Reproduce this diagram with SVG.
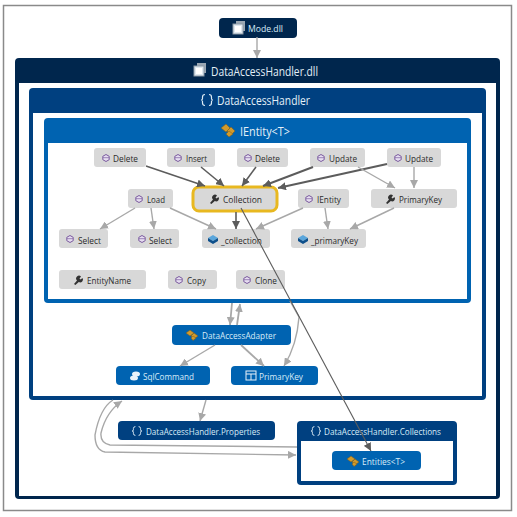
<svg xmlns="http://www.w3.org/2000/svg" width="517" height="517" viewBox="0 0 517 517">
<style>
text{font-family:"Open Sans","Noto Sans","DejaVu Sans",sans-serif;dominant-baseline:central;text-anchor:start}
.t{font-size:9.5px;fill:#2b2b2b}
.w{font-size:9.5px;fill:#d8ecf8}
.h{font-size:12px;fill:#e4f0f8}
.g{fill:#d8d8d8}
.l{fill:none;stroke:#a8a8a8;stroke-width:1.4}
.d{fill:none;stroke:#5c5c5c;stroke-width:1.6}
.wr{fill:#333}
.gold{fill:#d19a2c;stroke:#7b5a1a;stroke-width:.5}
.f{fill:#e8f2fa}
</style>
<defs>
<marker id="a" markerUnits="userSpaceOnUse" markerWidth="9" markerHeight="8" refX="8" refY="4" orient="auto"><path d="M0 0L8 4L0 8Z" fill="#a8a8a8"/></marker>
<marker id="b" markerUnits="userSpaceOnUse" markerWidth="9" markerHeight="8" refX="8" refY="4" orient="auto"><path d="M0 0L8 4L0 8Z" fill="#5c5c5c"/></marker>
<g id="mth"><path d="M0 -3.500L3.200 -1.700V1.700L0 3.500L-3.200 1.700V-1.700Z" fill="#e6def0" stroke="#7a5a9e" stroke-width="1"/><path d="M-3 -.3H3" stroke="#7a5a9e" stroke-width=".7"/></g>
<path id="wrench" d="M-4 4L-1 0.5A2.800 2.800 0 0 1 3 -3.500L1.500 -1.600L2.600 -.6L4.500 -2A2.800 2.800 0 0 1 .8 2L-2.600 5Z"/>
<g id="cyl"><path d="M-5 -1L0 -4L5 -1L0 2Z" fill="#5aa6dc"/><path d="M-5 -1V2L0 5L5 2V-1L0 2Z" fill="#0d4f8b"/></g>
<g id="cls"><path d="M-7 -2L-2 -6L2 -2L-2 2Z" class="gold"/><path d="M-1 1L3 -3L7 1L3 5Z" class="gold"/><path d="M-2 4L1 7L5 4L1 1Z" class="gold"/></g>
<g id="cls2"><path d="M-6 -2L-2 -5L2 -2L-2 1Z" class="gold"/><path d="M-1 1L2 -2L6 1L2 4Z" class="gold"/><path d="M-1 3L1 5.500L4 3L1 1Z" class="gold"/></g>
<g id="asm"><rect x="-3" y="-7" width="9" height="10" fill="#9aa7b3"/><rect x="-6" y="-4" width="10" height="10" fill="#dfe8ef" stroke="#8a98a5"/><rect x="-4" y="-2" width="6" height="6" fill="#fff"/></g>
<path id="ns" fill="none" stroke="#dcebf5" stroke-width="1.200" d="M-2 -5.500Q-4.500 -5.500 -4.500 -3V-1.500Q-4.500 0 -6 0Q-4.500 0 -4.500 1.500V3Q-4.500 5.500 -2 5.500M2 -5.500Q4.500 -5.500 4.500 -3V-1.500Q4.500 0 6 0Q4.500 0 4.500 1.500V3Q4.500 5.500 2 5.500"/>
</defs>

<rect id="frame" x="3.500" y="5.500" width="508" height="505" fill="#fff" stroke="#8a8a8a" stroke-width="1.500"/>

<g id="DataAccessHandler-dll"><rect x="15" y="58" width="485" height="441" rx="4" fill="#00264d"/><rect x="19" y="83" width="477" height="413" fill="#fff"/><use href="#asm" x="200" y="70"/><text class="h" x="211" y="71" textLength="107" lengthAdjust="spacingAndGlyphs">DataAccessHandler.dll</text></g>
<g id="DataAccessHandler"><rect x="29" y="88" width="457" height="312" rx="4" fill="#004080"/><rect x="33" y="113" width="449" height="283" fill="#fff"/><use href="#ns" x="207" y="100"/><text class="h" x="217" y="100" textLength="93" lengthAdjust="spacingAndGlyphs">DataAccessHandler</text></g>
<g id="IEntity-T"><rect x="44" y="118" width="427" height="185" rx="4" fill="#0063b1"/><rect x="48" y="143" width="419" height="156" fill="#fff"/><use href="#cls" x="228" y="130"/><text class="h" x="240" y="131" textLength="50" lengthAdjust="spacingAndGlyphs">IEntity&lt;T&gt;</text></g>

<g id="Mode-dll"><rect x="219" y="18" width="78" height="20" rx="4" fill="#00264d"/><use href="#asm" x="239" y="28"/><text class="w" x="248" y="28" textLength="35" lengthAdjust="spacingAndGlyphs">Mode.dll</text></g>

<g id="n-delete1"><rect class="g" x="94" y="148" width="52" height="19" rx="3"/><use href="#mth" x="106" y="158"/><text class="t" x="113" y="158" textLength="25" lengthAdjust="spacingAndGlyphs">Delete</text></g>
<g id="n-insert"><rect class="g" x="167" y="148" width="48" height="19" rx="3"/><use href="#mth" x="178" y="158"/><text class="t" x="186" y="158" textLength="21" lengthAdjust="spacingAndGlyphs">Insert</text></g>
<g id="n-delete2"><rect class="g" x="237" y="148" width="51" height="19" rx="3"/><use href="#mth" x="248" y="158"/><text class="t" x="255" y="158" textLength="25" lengthAdjust="spacingAndGlyphs">Delete</text></g>
<g id="n-update1"><rect class="g" x="310" y="148" width="55" height="19" rx="3"/><use href="#mth" x="321" y="158"/><text class="t" x="329" y="158" textLength="28" lengthAdjust="spacingAndGlyphs">Update</text></g>
<g id="n-update2"><rect class="g" x="387" y="148" width="54" height="19" rx="3"/><use href="#mth" x="398" y="158"/><text class="t" x="405" y="158" textLength="28" lengthAdjust="spacingAndGlyphs">Update</text></g>
<g id="n-load"><rect class="g" x="128" y="189" width="45" height="19" rx="3"/><use href="#mth" x="139" y="199"/><text class="t" x="147" y="199" textLength="18" lengthAdjust="spacingAndGlyphs">Load</text></g>
<g id="n-collection"><rect x="193" y="187" width="84" height="24" rx="6" fill="#d8d8d8" stroke="#e8b820" stroke-width="3"/><use class="wr" href="#wrench" x="214" y="199"/><text class="t" x="223" y="199" textLength="39" lengthAdjust="spacingAndGlyphs">Collection</text></g>
<g id="n-ientity"><rect class="g" x="298" y="189" width="51" height="19" rx="3"/><use href="#mth" x="309" y="199"/><text class="t" x="317" y="199" textLength="24" lengthAdjust="spacingAndGlyphs">IEntity</text></g>
<g id="n-primarykey"><rect class="g" x="371" y="189" width="86" height="19" rx="3"/><use class="wr" href="#wrench" x="390" y="199"/><text class="t" x="399" y="199" textLength="43" lengthAdjust="spacingAndGlyphs">PrimaryKey</text></g>
<g id="n-select1"><rect class="g" x="59" y="229" width="49" height="19" rx="3"/><use href="#mth" x="70" y="239"/><text class="t" x="78" y="240" textLength="23" lengthAdjust="spacingAndGlyphs">Select</text></g>
<g id="n-select2"><rect class="g" x="130" y="229" width="49" height="19" rx="3"/><use href="#mth" x="142" y="239"/><text class="t" x="149" y="240" textLength="23" lengthAdjust="spacingAndGlyphs">Select</text></g>
<g id="n-collection-field"><rect class="g" x="202" y="229" width="68" height="19" rx="3"/><use href="#cyl" x="213" y="239"/><text class="t" x="221" y="240" textLength="41" lengthAdjust="spacingAndGlyphs">_collection</text></g>
<g id="n-primarykey-field"><rect class="g" x="291" y="229" width="75" height="19" rx="3"/><use href="#cyl" x="303" y="239"/><text class="t" x="311" y="240" textLength="47" lengthAdjust="spacingAndGlyphs">_primaryKey</text></g>
<g id="n-entityname"><rect class="g" x="59" y="270" width="87" height="19" rx="3"/><use class="wr" href="#wrench" x="78" y="280"/><text class="t" x="87" y="280" textLength="44" lengthAdjust="spacingAndGlyphs">EntityName</text></g>
<g id="n-copy"><rect class="g" x="168" y="270" width="49" height="19" rx="3"/><use href="#mth" x="179" y="280"/><text class="t" x="187" y="280" textLength="19" lengthAdjust="spacingAndGlyphs">Copy</text></g>
<g id="n-clone"><rect class="g" x="236" y="270" width="49" height="19" rx="3"/><use href="#mth" x="247" y="280"/><text class="t" x="255" y="280" textLength="22" lengthAdjust="spacingAndGlyphs">Clone</text></g>

<g id="n-adapter"><rect x="172" y="325" width="119" height="20" rx="4" fill="#0063b1"/><use href="#cls2" x="192" y="335"/><text class="w" x="202" y="335" textLength="74" lengthAdjust="spacingAndGlyphs">DataAccessAdapter</text></g>
<g id="n-sqlcommand"><rect x="116" y="366" width="94" height="19" rx="4" fill="#0063b1"/><ellipse class="f" cx="136" cy="374" rx="4" ry="2.500"/><ellipse class="f" cx="134" cy="378" rx="4" ry="2.500"/><text class="w" x="143" y="376" textLength="51" lengthAdjust="spacingAndGlyphs">SqlCommand</text></g>
<g id="n-primarykey-struct"><rect x="231" y="366" width="87" height="19" rx="4" fill="#0063b1"/><rect x="246" y="371" width="10" height="9" fill="none" stroke="#e8f2fa"/><path d="M246 374H256M251 374V380" stroke="#e8f2fa" fill="none"/><text class="w" x="259" y="376" textLength="44" lengthAdjust="spacingAndGlyphs">PrimaryKey</text></g>
<g id="n-properties"><rect x="118" y="421" width="157" height="19" rx="4" fill="#004080"/><use href="#ns" transform="translate(137 431) scale(.8)"/><text class="w" x="146" y="431" textLength="114" lengthAdjust="spacingAndGlyphs">DataAccessHandler.Properties</text></g>
<g id="n-collections"><rect x="297" y="421" width="160" height="64" rx="4" fill="#004080"/><rect x="301" y="441" width="152" height="40" fill="#fff"/><use href="#ns" transform="translate(316 431) scale(.8)"/><text class="w" x="324" y="431" textLength="117" lengthAdjust="spacingAndGlyphs">DataAccessHandler.Collections</text></g>
<g id="n-entities"><rect x="332" y="451" width="89" height="19" rx="4" fill="#0063b1"/><use href="#cls2" x="353" y="461"/><text class="w" x="362" y="461" textLength="43" lengthAdjust="spacingAndGlyphs">Entities&lt;T&gt;</text></g>

<g id="connectors">
<path class="l" d="M257 37V58" marker-end="url(#a)"/>
<path class="d" d="M146 166L205 186" marker-end="url(#b)"/>
<path class="d" d="M201 167L224 186" marker-end="url(#b)"/>
<path class="d" d="M256 167L242 186" marker-end="url(#b)"/>
<path class="d" d="M313 167L263 186" style="stroke-width:2" marker-end="url(#b)"/>
<path class="d" d="M387 164L278 188" style="stroke-width:2" marker-end="url(#b)"/>
<path class="l" d="M358 167L395 188" marker-end="url(#a)"/>
<path class="l" d="M414 167V188" marker-end="url(#a)"/>
<path class="l" d="M135 208L100 229" marker-end="url(#a)"/>
<path class="l" d="M151 208L154 229" marker-end="url(#a)"/>
<path class="l" d="M170 208L216 229" marker-end="url(#a)"/>
<path class="d" d="M236 212V229" marker-end="url(#b)"/>
<path class="l" d="M303 208L256 229" marker-end="url(#a)"/>
<path class="l" d="M325 208L328 229" marker-end="url(#a)"/>
<path class="l" d="M394 208L350 229" marker-end="url(#a)"/>
<path class="l" d="M232 303L230 325" style="stroke-width:1.800" marker-end="url(#a)"/>
<path class="l" d="M237 325L240 304" style="stroke-width:1.800" marker-end="url(#a)"/>
<path class="l" d="M215 345L180 366" marker-end="url(#a)"/>
<path class="l" d="M241 345L264 366" style="stroke-width:1.800" marker-end="url(#a)"/>
<path class="l" d="M290 301L299 317Q297 345 284 366" marker-end="url(#a)"/>
<path class="l" d="M206 400L200 421" marker-end="url(#a)"/>
<path class="l" d="M297 447L110 445Q100 443 101 433Q106 412 122 401" marker-end="url(#a)"/>
<path class="l" d="M113 400Q100 408 95 435Q95 450 105 452L296 455" marker-end="url(#a)"/>
<path class="d" d="M241 208L371 451" marker-end="url(#b)" style="stroke-width:1.100"/>
</g>
</svg>
